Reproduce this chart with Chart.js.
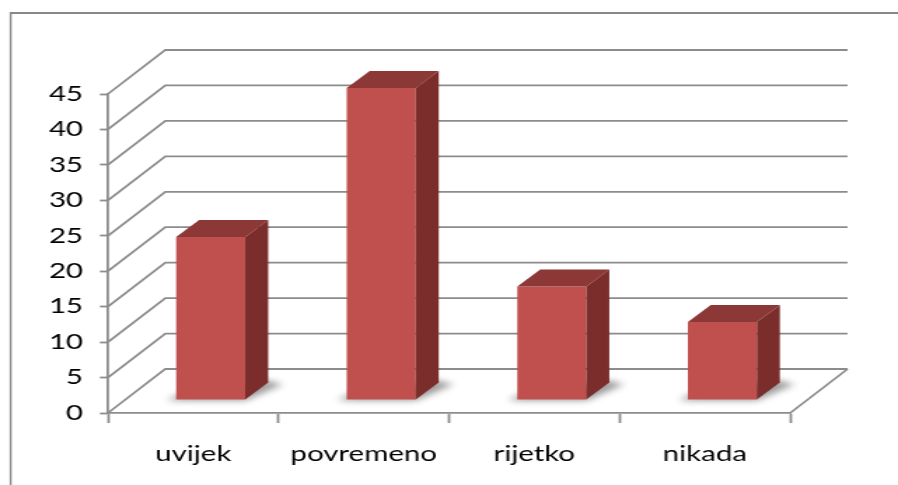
<!DOCTYPE html>
<html>
<head>
<meta charset="utf-8">
<script src="https://cdn.jsdelivr.net/npm/chart.js@4/dist/chart.umd.min.js"></script>
<style>
  html, body { margin: 0; padding: 0; background: #ffffff; }
</style>
</head>
<body>
<!-- the original picture is stretched sideways, so the canvas is drawn narrow and widened by its inline style -->
<canvas id="chart" width="641" height="485" style="width: 898px; height: 485px; display: block;"></canvas>
<script>
// chart data
const categories = ['uvijek', 'povremeno', 'rijetko', 'nikada'];
const answers = [23, 44, 16, 11];
const yMin = 0;
const yMax = 45;
const yStep = 5;

// look of the fake 3D box (canvas units, before the sideways stretch)
const gridColor = '#8c8c8c';
const barFront = '#c0504d';
const barTop = '#8c3836';
const barSide = '#7b2d2b';
const backShift = { x: 41, y: -44 };   // back wall offset from the front plane
const barShift = { x: 12.5, y: -13 };  // bars stand a little behind the front plane
const barDepth = { x: 16.4, y: -17 };  // depth of each bar

const font = { family: 'Lato', size: 21, weight: 400 };

// frame around the chart object (cut off by the picture at right and bottom)
const framePlugin = {
    id: 'frame',
    beforeDraw(chart) {
        const ctx = chart.ctx;
        ctx.save();
        ctx.strokeStyle = '#878787';
        ctx.lineWidth = 2;
        ctx.beginPath();
        ctx.moveTo(7.6, 13);
        ctx.lineTo(chart.width, 13);
        ctx.stroke();
        ctx.lineWidth = 1.4;
        ctx.beginPath();
        ctx.moveTo(7.6, 12);
        ctx.lineTo(7.6, chart.height);
        ctx.stroke();
        ctx.restore();
    }
};

// back wall, side wall and floor, then shift the bars back
const wallsPlugin = {
    id: 'walls',
    beforeDatasetsDraw(chart) {
        const ctx = chart.ctx;
        const y = chart.scales.y;
        const area = chart.chartArea;
        ctx.save();
        ctx.strokeStyle = gridColor;
        ctx.lineWidth = 1.8;
        for (let v = yMin; v <= yMax; v += yStep) {
            const py = y.getPixelForValue(v);
            ctx.beginPath();
            ctx.moveTo(area.left, py);
            ctx.lineTo(area.left + backShift.x, py + backShift.y);
            ctx.lineTo(area.right + backShift.x, py + backShift.y);
            ctx.stroke();
        }
        // right edge of the floor
        const p0 = y.getPixelForValue(yMin);
        ctx.beginPath();
        ctx.moveTo(area.right, p0);
        ctx.lineTo(area.right + backShift.x, p0 + backShift.y);
        ctx.stroke();
        ctx.restore();

        ctx.save();
        ctx.translate(barShift.x, barShift.y);
        // soft shadows on the floor
        const meta = chart.getDatasetMeta(0);
        ctx.fillStyle = 'rgba(0,0,0,0.4)';
        ctx.filter = 'blur(3px)';
        meta.data.forEach(bar => {
            const p = bar.getProps(['x', 'base', 'width'], true);
            const x1 = p.x - p.width / 2;
            const x2 = p.x + p.width / 2;
            ctx.beginPath();
            ctx.moveTo(x1 - 6, p.base + 1);
            ctx.lineTo(x2, p.base + 1);
            ctx.lineTo(x2 + barDepth.x + 10, p.base + barDepth.y + 2);
            ctx.lineTo(x2 + barDepth.x, p.base + barDepth.y - 2);
            ctx.lineTo(x1, p.base - 4);
            ctx.closePath();
            ctx.fill();
        });
        ctx.filter = 'none';
    },
    afterDatasetsDraw(chart) {
        const ctx = chart.ctx;
        const meta = chart.getDatasetMeta(0);
        meta.data.forEach(bar => {
            const p = bar.getProps(['x', 'y', 'base', 'width'], true);
            const x1 = p.x - p.width / 2;
            const x2 = p.x + p.width / 2;
            // top face
            ctx.fillStyle = barTop;
            ctx.beginPath();
            ctx.moveTo(x1, p.y);
            ctx.lineTo(x1 + barDepth.x, p.y + barDepth.y);
            ctx.lineTo(x2 + barDepth.x, p.y + barDepth.y);
            ctx.lineTo(x2, p.y);
            ctx.closePath();
            ctx.fill();
            // right face
            ctx.fillStyle = barSide;
            ctx.beginPath();
            ctx.moveTo(x2, p.y);
            ctx.lineTo(x2 + barDepth.x, p.y + barDepth.y);
            ctx.lineTo(x2 + barDepth.x, p.base + barDepth.y);
            ctx.lineTo(x2, p.base);
            ctx.closePath();
            ctx.fill();
        });
        ctx.restore();
    }
};

const config = {
    type: 'bar',
    data: {
        labels: categories,
        datasets: [{
            data: answers,
            backgroundColor: barFront,
            borderWidth: 0,
            barPercentage: 0.405,
            categoryPercentage: 1,
            clip: false
        }]
    },
    options: {
        responsive: false,
        animation: false,
        layout: { padding: { top: 94, right: 77, bottom: 0, left: 0 } },
        plugins: {
            legend: { display: false },
            tooltip: { enabled: false }
        },
        scales: {
            x: {
                grid: {
                    offset: true,
                    drawOnChartArea: false,
                    drawTicks: true,
                    tickLength: 10,
                    tickColor: gridColor,
                    tickWidth: 1.8
                },
                border: { display: true, color: gridColor, width: 1.8 },
                ticks: { color: '#000000', font: font, padding: 19, maxRotation: 0, autoSkip: false },
                afterFit(scale) { scale.height = 72; }
            },
            y: {
                min: yMin,
                max: yMax,
                grid: {
                    drawOnChartArea: false,
                    drawTicks: true,
                    tickLength: 5.7,
                    tickColor: gridColor,
                    tickWidth: 1.8
                },
                border: { display: true, color: gridColor, width: 1.8 },
                ticks: { stepSize: yStep, color: '#000000', font: font, padding: 12 },
                afterFit(scale) { scale.width = 77; }
            }
        }
    },
    plugins: [framePlugin, wallsPlugin]
};

const ctx = document.getElementById('chart').getContext('2d');
const answersChart = new Chart(ctx, config);
</script>
</body>
</html>
